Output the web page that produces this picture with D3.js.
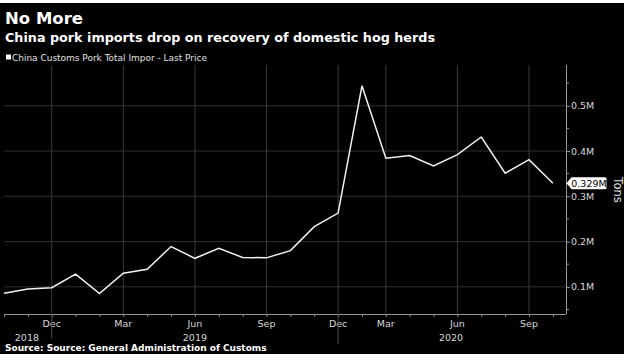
<!DOCTYPE html>
<html><head><meta charset="utf-8">
<script src="https://cdn.jsdelivr.net/npm/d3@7"></script>
<style>html,body{margin:0;padding:0;background:#fff;}svg{display:block;}</style>
</head><body>
<svg id="c" width="630" height="360"></svg>
<script>
// ---- data ----
const categories = ["Oct 2018","Nov 2018","Dec 2018","Jan 2019","Feb 2019","Mar 2019","Apr 2019","May 2019","Jun 2019","Jul 2019","Aug 2019","Sep 2019","Oct 2019","Nov 2019","Dec 2019","Jan-Feb 2020","Mar 2020","Apr 2020","May 2020","Jun 2020","Jul 2020","Aug 2020","Sep 2020","Oct 2020"];
const values = [0.086,0.095,0.098,0.128,0.085,0.130,0.139,0.189,0.163,0.185,0.165,0.164,0.180,0.233,0.263,0.544,0.384,0.390,0.367,0.392,0.431,0.351,0.381,0.329];
const xTickMonths = ["Dec","Mar","Jun","Sep"];
const yTicks = [0.1,0.2,0.3,0.4,0.5];
const yMinorTicks = [0.05,0.15,0.25,0.35,0.45,0.55];
const yearLabels = [{label:"2018", at:0.96},{label:"2019", at:8.0},{label:"2020", at:18.73}];
const title = "No More";
const subtitle = "China pork imports drop on recovery of domestic hog herds";
const legendText = "China Customs Pork Total Impor - Last Price";
const sourceText = "Source: Source: General Administration of Customs";
const lastLabel = "0.329M";

// ---- drawing ----
const svg = d3.select("#c");
const F = "'DejaVu Sans', Verdana, sans-serif";
svg.append("rect").attr("x",0).attr("y",3).attr("width",624).attr("height",351).attr("fill","#000");

const x = d3.scaleLinear().domain([0, 23.55]).range([4, 566]);
const y = d3.scaleLinear().domain([0.04, 0.59]).range([314, 65]);
const plotTop = y.range()[1], plotBot = y.range()[0], plotRight = x.range()[1];

// horizontal grid
svg.append("g").selectAll("line").data(yTicks).join("line")
  .attr("x1", x.range()[0]).attr("x2", plotRight)
  .attr("y1", d=>y(d)).attr("y2", d=>y(d))
  .attr("stroke","#303030").attr("stroke-width",1);

// vertical grid
const tickIdx = categories.map((c,i)=>({m:c.split(" ")[0], i})).filter(d=>xTickMonths.includes(d.m));
svg.append("g").selectAll("line").data(tickIdx).join("line")
  .attr("x1", d=>x(d.i)).attr("x2", d=>x(d.i))
  .attr("y1", plotTop).attr("y2", plotBot)
  .attr("stroke","#3a3a3a").attr("stroke-width",1);

// x axis
const xAxis = d3.axisBottom(x).tickValues(d3.range(categories.length)).tickSize(3).tickFormat("");
const gx = svg.append("g").attr("transform",`translate(0,${plotBot})`).call(xAxis);
gx.select(".domain").attr("stroke","#9a9a9a").attr("d",`M${x.range()[0]},0.5H${plotRight}`);
gx.selectAll(".tick line").attr("stroke","#8a8a8a");

// month labels
svg.append("g").selectAll("text").data(tickIdx).join("text")
  .attr("x", d=>x(d.i)).attr("y", 326.5).attr("text-anchor","middle")
  .attr("fill","#d8d8d8").attr("font-family",F).attr("font-size",9.5)
  .text(d=>d.m);

// year separators at Dec
const decs = tickIdx.filter(d=>d.m==="Dec");
svg.append("g").selectAll("line").data(decs).join("line")
  .attr("x1", d=>x(d.i)).attr("x2", d=>x(d.i)).attr("y1", plotBot).attr("y2", (d,i)=> i===0 ? 339 : 344)
  .attr("stroke","#4a4a4a");

// year labels
svg.append("g").selectAll("text").data(yearLabels).join("text")
  .attr("x", d=>x(d.at)).attr("y", 341).attr("text-anchor","middle")
  .attr("fill","#d8d8d8").attr("font-family",F).attr("font-size",9.5)
  .text(d=>d.label);

// y axis
const yAxis = d3.axisRight(y).tickValues(yTicks).tickSize(4).tickPadding(1).tickFormat(d=>d3.format(".1f")(d)+"M");
const gy = svg.append("g").attr("transform",`translate(${plotRight},0)`).call(yAxis);
gy.select(".domain").attr("stroke","#9a9a9a").attr("d",`M0.5,${plotTop}V${plotBot}`);
gy.selectAll(".tick line").attr("stroke","#9a9a9a");
gy.selectAll(".tick text").attr("fill","#d8d8d8").attr("font-family",F).attr("font-size",9.5);
svg.append("g").selectAll("line").data(yMinorTicks).join("line")
  .attr("x1", plotRight).attr("x2", plotRight+3).attr("y1", d=>y(d)).attr("y2", d=>y(d))
  .attr("stroke","#8a8a8a");

// line
const line = d3.line().x((d,i)=>x(i)).y(d=>y(d));
svg.append("path").datum(values).attr("d", line)
  .attr("fill","none").attr("stroke","#f2f2f2").attr("stroke-width",1.5).attr("stroke-linejoin","miter");

// last value label
const lv = values[values.length-1];
const ly = y(lv);
const bx = plotRight + 0.5, bw = 40, bh = 12;
svg.append("path")
  .attr("d", `M${bx},${ly} L${bx+5},${ly-bh/2} H${bx+bw-1.5} Q${bx+bw},${ly-bh/2} ${bx+bw},${ly-bh/2+1.5} V${ly+bh/2-1.5} Q${bx+bw},${ly+bh/2} ${bx+bw-1.5},${ly+bh/2} H${bx+5} Z`)
  .attr("fill","#fff");
svg.append("text").attr("x", bx+22.5).attr("y", ly+3.5).attr("text-anchor","middle")
  .attr("fill","#000").attr("font-family",F).attr("font-size",9.5).text(lastLabel);

// axis title
svg.append("text").attr("transform",`translate(614,190) rotate(90)`).attr("text-anchor","middle")
  .attr("fill","#e0e0e0").attr("font-family",F).attr("font-size",11.5).text("Tons");

// titles
svg.append("text").attr("x",5).attr("y",24).attr("fill","#fff").attr("font-family",F)
  .attr("font-weight","bold").attr("font-size",16.5).text(title);
svg.append("text").attr("x",5).attr("y",42).attr("fill","#fff").attr("font-family",F)
  .attr("font-weight","bold").attr("font-size",13).attr("textLength",430).attr("lengthAdjust","spacingAndGlyphs").text(subtitle);
svg.append("rect").attr("x",6).attr("y",54.5).attr("width",5).attr("height",5).attr("fill","#fff");
svg.append("text").attr("x",12).attr("y",60.5).attr("fill","#e0e0e0").attr("font-family",F)
  .attr("font-size",9).attr("textLength",195).attr("lengthAdjust","spacingAndGlyphs").text(legendText);

// source
svg.append("text").attr("x",5).attr("y",351).attr("fill","#fff").attr("font-family",F)
  .attr("font-weight","bold").attr("font-size",9).text(sourceText);
</script>
</body></html>
